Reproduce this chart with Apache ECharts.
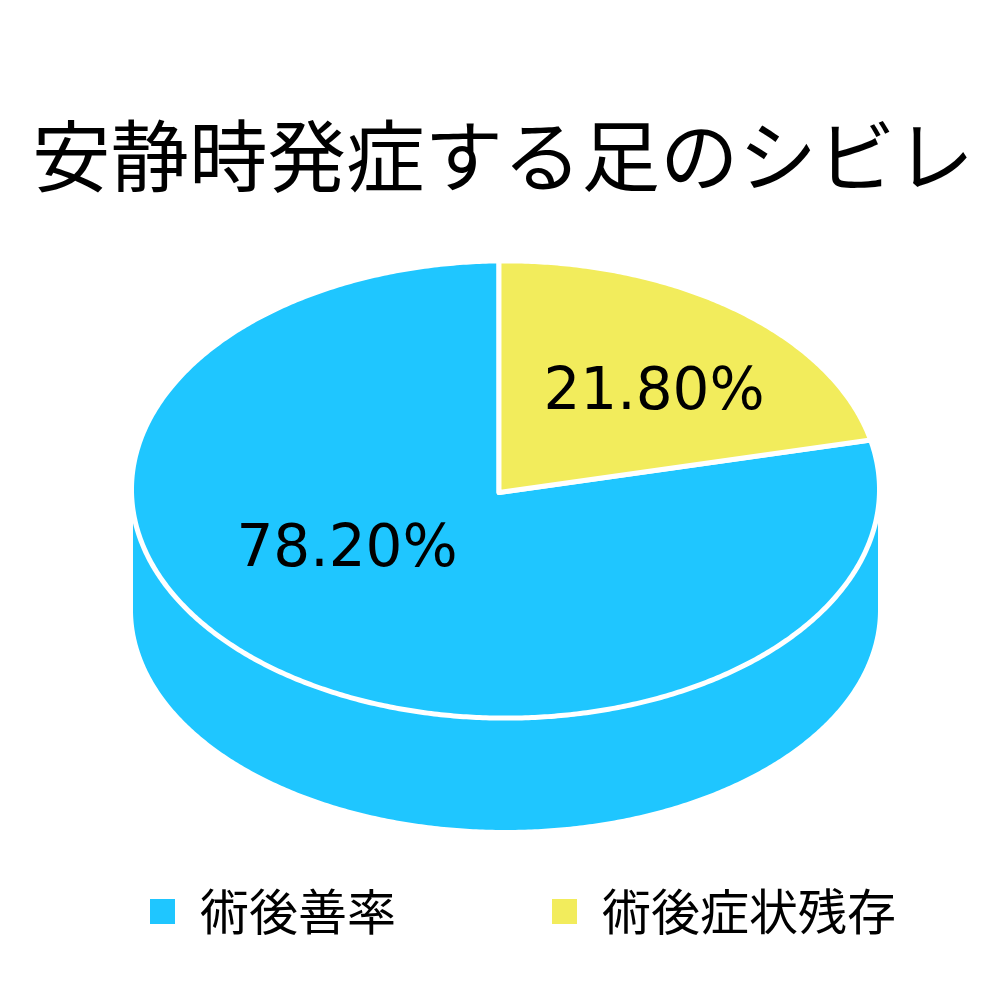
<!DOCTYPE html>
<html>
<head>
<meta charset="utf-8">
<style>html,body{margin:0;padding:0;background:#fff}#c{width:1000px;height:1000px}</style>
<script src="https://cdn.jsdelivr.net/npm/echarts@6/dist/echarts.min.js"></script>
</head>
<body>
<div id="c"></div>
<script>
const titleText = '安静時発症する足のシビレ';
const categories = ['術後善率', '術後症状残存'];
const values = [78.2, 21.8];
const colors = ['#1FC6FF', '#F2EC5C'];

// Layout of the tilted disc
const disc = { apexX: 499, apexY: 492.5, cx: 505.5, cy: 489.5, rx: 374, ry: 228.6, spin: -1,
               sideCy: 610, sideRx: 372.5, sideRy: 220 };
const labelFont = '"DejaVu Sans","Noto Sans CJK JP",sans-serif';
const cjkFont = '"Noto Sans CJK JP","Noto Sans CJK SC",sans-serif';
const labelCenters = [[347, 551], [654, 394]];
// slices run clockwise from 12 o'clock, last category first
const drawOrder = [1, 0];

function sliceRange(idx) {
  let start = 0;
  for (const i of drawOrder) {
    const sweep = values[i] / values.reduce((a, b) => a + b, 0) * 360;
    if (i === idx) return [start, start + sweep];
    start += sweep;
  }
}
function rim(deg, cy, rx, ry) {
  const t = (deg + disc.spin) * Math.PI / 180;
  return [disc.cx + rx * Math.sin(t), cy - ry * Math.cos(t)];
}
function renderSlice(params, api) {
  const idx = params.seriesIndex;
  const pct = api.value(0);
  const [a0, a1] = sliceRange(idx);
  const top = [[disc.apexX, disc.apexY]];
  for (let d = a0; d < a1; d += 0.5) top.push(rim(d, disc.cy, disc.rx, disc.ry));
  top.push(rim(a1, disc.cy, disc.rx, disc.ry));
  const children = [];
  // wall: the part of this slice's rim on the near half of the disc
  const s0 = Math.max(a0, 90 - disc.spin), s1 = Math.min(a1, 270 - disc.spin);
  if (s1 > s0) {
    const upper = [], lower = [];
    for (let d = s0; d <= s1; d += 0.5) {
      upper.push(rim(d, disc.cy, disc.sideRx, disc.ry));
      lower.push(rim(d, disc.sideCy, disc.sideRx, disc.sideRy));
    }
    children.push({ type: 'polygon', shape: { points: upper.concat(lower.reverse()) },
      style: { fill: colors[idx], stroke: null } });
  }
  children.push({ type: 'polygon', shape: { points: top },
    style: { fill: colors[idx], stroke: '#fff', lineWidth: 5, lineJoin: 'round' } });
  children.push({ type: 'text', z2: 10, style: {
    x: labelCenters[idx][0], y: labelCenters[idx][1], text: pct.toFixed(2) + '%',
    fill: '#000', font: '58px ' + labelFont, align: 'center', verticalAlign: 'middle' } });
  return { type: 'group', children };
}

const chart = echarts.init(document.getElementById('c'), null, { renderer: 'canvas' });
chart.setOption({
  animation: false,
  backgroundColor: '#fff',
  title: {
    text: titleText, left: 27, top: 112,
    textStyle: { fontFamily: cjkFont, fontSize: 78.5, fontWeight: 'normal', color: '#000' }
  },
  legend: {
    data: categories, left: 145, top: 882, icon: 'rect', itemWidth: 25, itemHeight: 25, itemGap: 156,
    selectedMode: false,
    textStyle: { fontFamily: cjkFont, fontSize: 49, color: '#000', padding: [0, 0, 0, 20] }
  },
  series: categories.map((name, i) => ({
    type: 'custom', name, coordinateSystem: 'none', z: i === 0 ? 2 : 3,
    itemStyle: { color: colors[i] },
    renderItem: renderSlice,
    data: [[values[i]]]
  }))
});
</script>
</body>
</html>
